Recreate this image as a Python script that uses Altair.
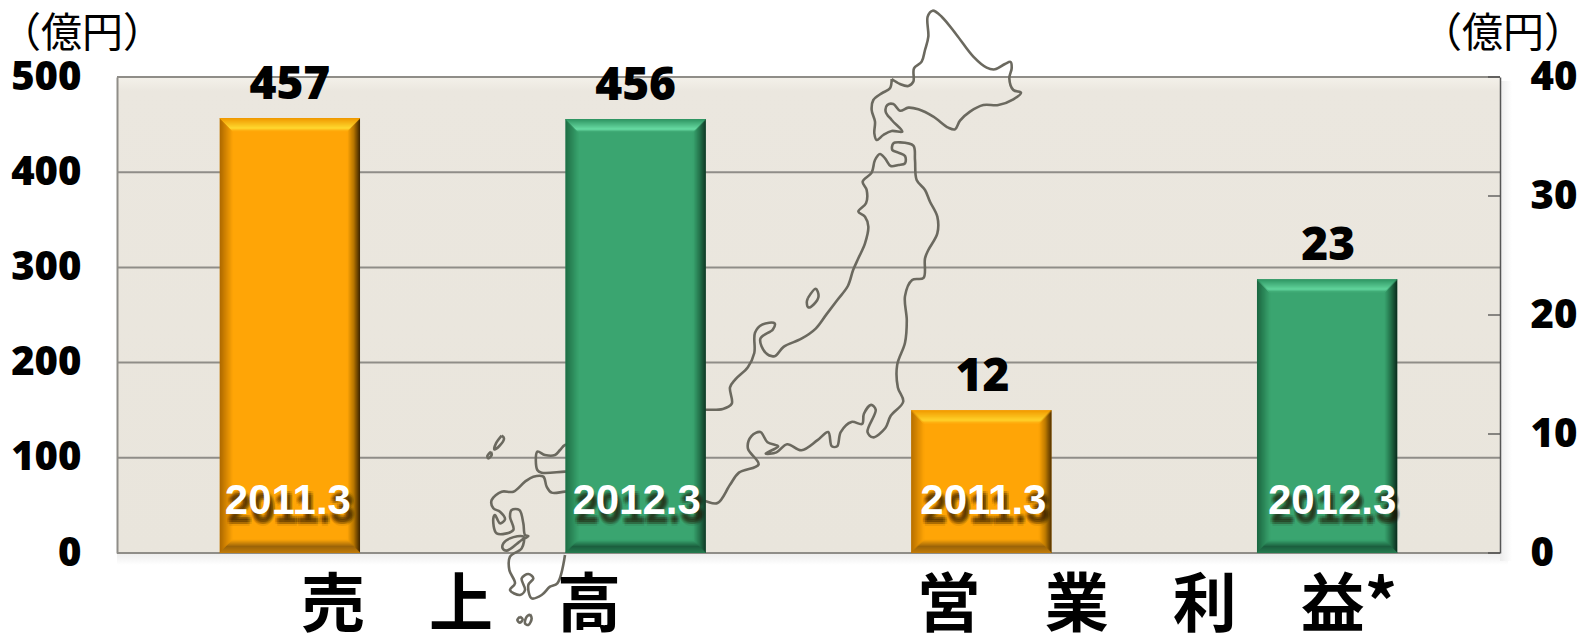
import altair as alt
import pandas as pd

# ---- values ----
keys = ["s11", "s12", "p11", "p12"]
periods = ["2011.3", "2012.3", "2011.3", "2012.3"]
sales_values = [457, 456]
profit_values = [12, 23]
sales_ticks = [0, 100, 200, 300, 400, 500]
profit_ticks = [0, 10, 20, 30, 40]
unit_label = "（億円）"
group_sales = "売　上　高"
group_profit = "営　業　利　益*"

# map outline (three zoomed readings, map units)
hok = [(125,237),(150,252),(175,258),(190,245),(192,205),(215,185),(225,150),(235,110),(233,50),(248,32),(275,50),(320,105),(370,170),(410,203),(435,208),(465,192),(482,186),(485,205),(478,235),(490,270),(513,278),(490,298),(445,315),(400,315),(360,335),(330,362),(315,388),(295,383),(250,350),(205,328),(175,323),(150,332),(130,312),(112,315),(107,335),(125,360),(157,395),(125,393),(100,405),(80,420),(73,400),(75,365),(65,330),(70,300),(95,280),(120,265),(125,237)]
hon_north = [(25,775),(45,730),(55,680),(45,650),(25,635),(48,610),(50,570),(38,545),(65,518),(75,480),(90,462),(105,475),(122,498),(145,495),(165,490),(165,468),(145,458),(127,450),(130,430),(150,427),(190,437),(195,480),(200,540),(225,570),(240,605),(262,650),(262,700),(235,750),(225,775)]
hon_west = [(1045,665),(1030,705),(1000,740),(970,775),(940,810),(900,835),(850,855),(825,878),(800,870),(785,835),(820,812),(825,797),(790,800),(770,820),(768,870),(750,905),(715,935),(700,955),(705,995),(680,1008),(630,1010),(560,1010)]
hon_east = [(1242,685),(1210,690),(1190,730),(1195,790),(1190,845),(1168,900),(1170,955),(1185,990),(1150,1025),(1135,1055),(1100,1078),(1085,1065),(1108,1010),(1095,998),(1075,1020),(1070,1045),(1040,1040),(1010,1065),(1000,1100),(985,1100),(975,1065),(945,1085),(900,1110),(860,1095),(830,1115),(800,1118),(835,1100),(805,1090),(785,1065),(760,1075),(750,1105),(780,1145),(725,1165),(700,1195),(665,1240),(630,1235),(560,1215)]
sado = [(918,735),(940,712),(948,730),(935,750),(920,758),(915,745),(918,735)]
hon_tip = [(290,75),(255,75),(240,90),(225,105),(195,105),(172,95),(172,150),(185,158),(255,155),(290,155)]
kyushu = [(290,215),(255,215),(215,218),(200,200),(190,170),(160,170),(135,185),(100,215),(65,215),(35,240),(40,265),(60,275),(75,298),(60,310),(45,285),(40,295),(50,340),(100,330),(90,290),(95,270),(118,270),(130,310),(135,345),(145,348),(125,360),(110,372),(80,392),(68,385),(70,370),(90,355),(130,350),(125,385),(90,410),(88,450),(105,490),(90,510),(120,525),(135,510),(125,475),(145,462),(160,475),(145,495),(155,535),(185,525),(210,500),(232,490),(255,405)]
tsushima = [(65,47),(72,55),(58,78),(43,88),(48,70),(65,47)]
iki = [(33,95),(35,105),(25,115),(22,108),(33,95)]
isle_a = [(120,590),(128,598),(120,608),(112,600),(120,590)]
isle_b = [(150,583),(155,595),(145,615),(135,610),(140,590),(150,583)]

# ---- style ----
ORANGE, GREEN = "#ffa506", "#3aa570"
GRID = "#8f8d88"
BIG_FONT = "Noto Sans"
BIG_WEIGHT = 900
CJK = "Noto Sans CJK JP"
W, H = 1383, 476
BAR = 140
BEVEL = 13


def mix(a, b, t):
    pa = [int(a[i:i + 2], 16) for i in (1, 3, 5)]
    pb = [int(b[i:i + 2], 16) for i in (1, 3, 5)]
    return "#%02x%02x%02x" % tuple(round(p + (q - p) * t) for p, q in zip(pa, pb))


def ramp(stops, i):
    t = i / (BEVEL - 1)
    for (t0, c0), (t1, c1) in zip(stops, stops[1:]):
        if t <= t1:
            return mix(c0, c1, (t - t0) / (t1 - t0))
    return stops[-1][1]


BEVELS = {
    "top": ([(0, "#f09a00"), (0.8, "#ffd92f"), (1, "#ffb010")],
            [(0, "#2f9663"), (0.8, "#68dba3"), (1, "#40ab76")]),
    "left": ([(0, "#b06a00"), (1, "#fba206")],
             [(0, "#1c6842"), (1, "#38a16c")]),
    "right": ([(0, "#452a00"), (0.5, "#b87700"), (1, "#fda306")],
              [(0, "#0c3020"), (0.5, "#237049"), (1, "#39a36e")]),
    "bottom": ([(0, "#c07a08"), (0.5, "#9c6408"), (1, "#f09c08")],
               [(0, "#25794f"), (0.5, "#1b5f3e"), (1, "#36a06b")]),
}


def bar_fill(side, i):
    return (
        alt.when(alt.datum.period == "2011.3")
        .then(alt.value(ramp(BEVELS[side][0], i)))
        .otherwise(alt.value(ramp(BEVELS[side][1], i)))
    )


def frame(ks, ps, vals):
    return pd.DataFrame({"key": ks, "period": ps, "value": vals, "base": [0] * len(vals)})


sales_df = frame(keys[:2], periods[:2], sales_values)
profit_df = frame(keys[2:], periods[2:], profit_values)

x_enc = alt.X("key:N", scale=alt.Scale(domain=keys, paddingInner=0, paddingOuter=0), axis=None)


def y_enc(dom):
    return alt.Y("value:Q", scale=alt.Scale(domain=dom), axis=None)


def y2_enc():
    return alt.Y2("base:Q")


def bar_layers(df, dom):
    out = []
    y = y_enc(dom)
    out.append(
        alt.Chart(df).mark_bar(width=BAR).encode(
            x=x_enc, y=y, y2=y2_enc(),
            color=alt.when(alt.datum.period == "2011.3").then(alt.value(ORANGE)).otherwise(alt.value(GREEN)),
        )
    )
    half = BAR / 2
    for i in range(BEVEL):
        out.append(alt.Chart(df).mark_bar(width=1.3, xOffset=-half + i + 0.5, yOffset=i, y2Offset=-i).encode(
            x=x_enc, y=y, y2=y2_enc(), color=bar_fill("left", i)))
        out.append(alt.Chart(df).mark_bar(width=1.3, xOffset=half - i - 0.5, yOffset=i, y2Offset=-i).encode(
            x=x_enc, y=y, y2=y2_enc(), color=bar_fill("right", i)))
        out.append(alt.Chart(df).mark_bar(width=BAR - 2 * i, yOffset=i, y2Offset=i + 1.3).encode(
            x=x_enc, y=y, y2=alt.Y2("value:Q"), color=bar_fill("top", i)))
        out.append(alt.Chart(df).mark_bar(width=BAR - 2 * i, yOffset=-i - 1.3, y2Offset=-i).encode(
            x=x_enc, y=alt.Y("base:Q", scale=alt.Scale(domain=dom), axis=None), y2=y2_enc(), color=bar_fill("bottom", i)))
    return out


SHADOW = [(3, 8, 0.16), (1, 8, 0.12), (5, 8, 0.12), (3, 6, 0.12), (3, 10, 0.14),
          (1, 10, 0.10), (5, 10, 0.10), (1, 6, 0.08), (5, 6, 0.08), (3, 12, 0.08)]


def text_layers(df, dom, nudges):
    out = []
    for row, nudge in zip(df.to_dict("records"), nudges):
        one = pd.DataFrame([row])
        # value above the bar
        out.append(alt.Chart(one).mark_text(
            font=BIG_FONT, fontWeight=BIG_WEIGHT, fontSize=46, color="black", baseline="middle", dy=-33, dx=nudge[0]
        ).encode(x=x_enc, y=y_enc(dom), text=alt.Text("value:Q")))
        # period label with a soft shadow
        for (ox, oy, op) in SHADOW:
            out.append(alt.Chart(one).mark_text(
                font="Liberation Sans", fontWeight="bold", fontSize=42, color="#201000", opacity=op,
                baseline="middle", dx=nudge[1] + ox, dy=oy
            ).encode(x=x_enc, y=alt.value(424), text="period:N"))
        out.append(alt.Chart(one).mark_text(
            font="Liberation Sans", fontWeight="bold", fontSize=42, color="white",
            baseline="middle", dx=nudge[1]
        ).encode(x=x_enc, y=alt.value(424), text="period:N"))
    return out


def map_layer(points):
    df = pd.DataFrame({"mx": [p[0] for p in points], "my": [p[1] for p in points], "i": range(len(points))})
    return alt.Chart(df).mark_line(color="#6b695f", strokeWidth=2.6, interpolate="catmull-rom").encode(
        x=alt.X("mx:Q", scale=alt.Scale(domain=[117, 117 + W], nice=False, zero=False), axis=None),
        y=alt.Y("my:Q", scale=alt.Scale(domain=[77 + H, 77], nice=False, zero=False), axis=None),
        order="i:Q",
    )


def z10(p):
    return [(850 + x / 3, y / 3) for x, y in p]


def z1(p):
    return [(480 + x / 2.8, y / 2.465) for x, y in p]


def z9(p):
    return [(480 + x / 3, 420 + y / 3) for x, y in p]


map_parts = [
    z10(hok),
    z1(hon_west)[::-1] + z10(hon_north) + z1(hon_east),
    z1(sado),
    z9(hon_tip),
    z9(kyushu),
    z9(tsushima),
    z9(iki),
    z9(isle_a),
    z9(isle_b),
]

# background and soft shadows
background = alt.Chart(pd.DataFrame({"a": [0]})).mark_rect(
    fill=alt.Gradient(
        gradient="linear", x1=0, y1=0, x2=0, y2=1,
        stops=[
            alt.GradientStop(offset=0, color="#f4f1ea"),
            alt.GradientStop(offset=0.03, color="#ebe7df"),
            alt.GradientStop(offset=1, color="#e9e5dc"),
        ],
    )
).encode(x=alt.value(0), x2=alt.value(W), y=alt.value(0), y2=alt.value(H))

shadow_b = alt.Chart(pd.DataFrame({"a": [0]})).mark_rect(
    fill=alt.Gradient(
        gradient="linear", x1=0, y1=0, x2=0, y2=1,
        stops=[alt.GradientStop(offset=0, color="#ececec"), alt.GradientStop(offset=1, color="#ffffff")],
    )
).encode(x=alt.value(0), x2=alt.value(W + 8), y=alt.value(H), y2=alt.value(H + 12))

shadow_r = alt.Chart(pd.DataFrame({"a": [0]})).mark_rect(
    fill=alt.Gradient(
        gradient="linear", x1=0, y1=0, x2=1, y2=0,
        stops=[alt.GradientStop(offset=0, color="#ececec"), alt.GradientStop(offset=1, color="#ffffff")],
    )
).encode(x=alt.value(W), x2=alt.value(W + 12), y=alt.value(4), y2=alt.value(H + 8))

# grid + left axis
left_axis = alt.Axis(
    orient="left", values=sales_ticks, labelFont=BIG_FONT, labelFontWeight=BIG_WEIGHT, labelFontSize=40,
    labelColor="black", labelPadding=36, tickSize=0, ticks=False, grid=False, title=None,
    domainColor=GRID, domainWidth=2, zindex=1,
)
grid = alt.Chart(pd.DataFrame({"t": sales_ticks})).mark_rule(color=GRID, strokeWidth=2).encode(
    y=alt.Y("t:Q", scale=alt.Scale(domain=[0, 500]), axis=left_axis)
)

# right axis: ticks point inwards
right_axis = alt.Axis(
    orient="right", values=profit_ticks, labelFont=BIG_FONT, labelFontWeight=BIG_WEIGHT, labelFontSize=40,
    labelColor="black", labelPadding=30, ticks=False, grid=False, title=None,
    domainColor="#555555", domainWidth=1.5, zindex=1,
)
right_ticks = alt.Chart(pd.DataFrame({"t": profit_ticks})).mark_rule(color="#444444", strokeWidth=1.2).encode(
    y=alt.Y("t:Q", scale=alt.Scale(domain=[0, 40]), axis=right_axis),
    x=alt.value(W - 12), x2=alt.value(W),
)


def label(txt, px, py, size, weight="normal"):
    return alt.Chart(pd.DataFrame({"t": [txt]})).mark_text(
        font=CJK, fontSize=size, fontWeight=weight, color="black", baseline="middle", align="center"
    ).encode(x=alt.value(px), y=alt.value(py), text="t:N")


layers = [shadow_b, shadow_r, background, grid, right_ticks]
layers += [map_layer(p) for p in map_parts]
layers += bar_layers(sales_df, [0, 500])
layers += bar_layers(profit_df, [0, 40])
layers += text_layers(sales_df, [0, 500], [(0, -2), (0, 1)])
layers += text_layers(profit_df, [0, 40], [(1, 2), (1, 5)])
layers += [
    label(unit_label, 82 - 117, 35 - 77, 41),
    label(unit_label, 1503 - 117, 35 - 77, 41),
    label(group_sales, 461 - 117, 607 - 77, 64, "bold"),
    label(group_profit, 1157 - 117, 607 - 77, 64, "bold"),
]

chart = (
    alt.layer(*layers)
    .resolve_scale(x="independent", y="independent")
    .properties(
        width=W, height=H,
        padding={"left": 109, "top": 69, "right": 77, "bottom": 82},
        autosize=alt.AutoSizeParams(type="none"),
    )
    .configure_view(stroke=None)
)

chart.save("out.html", embed_options={"renderer": "svg", "actions": False})
